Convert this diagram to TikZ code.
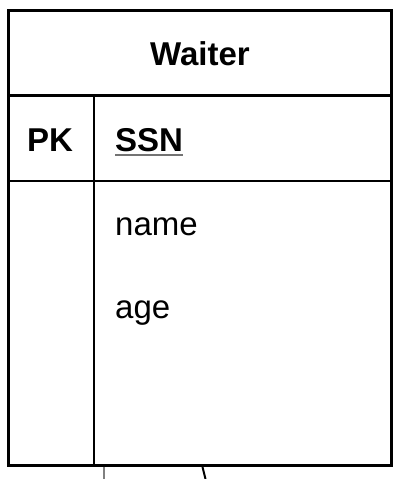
\documentclass[tikz,border=0pt]{standalone}
\usepackage{fontspec}
\setmainfont{Liberation Sans}
\begin{document}
\begin{tikzpicture}[x=1pt,y=-1pt,
  outer/.style={line width=3pt},
  inner/.style={line width=2pt},
  lbl/.style={inner sep=0pt,font=\fontsize{33}{36}\selectfont},
  bl/.style={lbl,font=\fontsize{33}{36}\selectfont\bfseries},
  stub/.style={line width=2pt}]
\useasboundingbox (0,0) rectangle (407,479);
% table
\draw[outer] (8.5,10.5) rectangle (391.5,465.5);
\draw[outer] (8.5,95.5) -- (391.5,95.5);
\draw[inner] (8.5,181) -- (391.5,181);
\draw[inner] (94,95.5) -- (94,465.5);
% texts
\node[bl,anchor=base] (title) at (200,65) {Waiter};
\node[bl,anchor=base west] (pk) at (27,151) {PK};
\node[bl,anchor=base west] (ssn) at (115,151) {SSN};
\draw[line width=2pt,black!55] ([yshift=-4pt]ssn.base west) -- ([yshift=-4pt]ssn.base east);
\node[lbl,anchor=base west] (name) at (115,235) {name};
\node[lbl,anchor=base west] (age) at (115,318) {age};
% cut-off connectors
\coordinate (c1a) at (104,467);
\coordinate (c1b) at (104,479);
\coordinate (c2a) at (202.5,467);
\coordinate (c2b) at (205.5,479);
\draw[stub,black!50] (c1a) -- (c1b);
\draw[stub] (c2a) -- (c2b);
\end{tikzpicture}
\end{document}
